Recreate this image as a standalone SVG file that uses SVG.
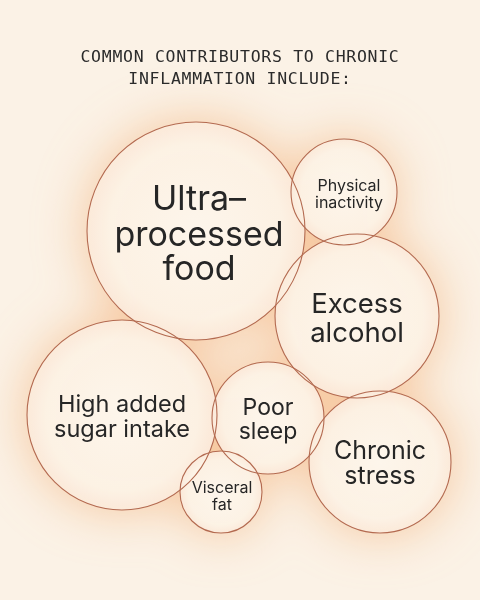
<svg xmlns="http://www.w3.org/2000/svg" width="480" height="600" viewBox="0 0 480 600">
<defs>
<filter id="glow" x="-50%" y="-50%" width="200%" height="200%"><feGaussianBlur stdDeviation="24"/></filter>
<radialGradient id="fill" cx="50%" cy="50%" r="50%">
<stop offset="0" stop-color="#fdf9f1"/>
<stop offset="0.8" stop-color="#fcf4e8"/>
<stop offset="1" stop-color="#fbeadb"/>
</radialGradient>
<style>
.bg-glow{fill:#f6c49a;opacity:0.85}
.disc{fill:url(#fill);fill-opacity:0.92}
.ring{fill:none;stroke:#b36a50;stroke-width:1.1}
.title{font-family:"DejaVu Sans Mono","Liberation Mono",monospace;font-size:16.5px;fill:#2b2b2b;text-anchor:middle;letter-spacing:0.7px}
.lbl{font-family:Inter,"Liberation Sans",sans-serif;fill:#262626;text-anchor:middle}
</style>
</defs>
<rect width="480" height="600" fill="#fbf2e6"/>
<g filter="url(#glow)">
<circle class="bg-glow" cx="196" cy="231" r="112"/>
<circle class="bg-glow" cx="344" cy="192" r="55"/>
<circle class="bg-glow" cx="357" cy="316" r="85"/>
<circle class="bg-glow" cx="122" cy="415" r="98"/>
<circle class="bg-glow" cx="268" cy="418" r="58"/>
<circle class="bg-glow" cx="221" cy="492" r="43"/>
<circle class="bg-glow" cx="380" cy="462" r="74"/>
</g>
<g id="title">
<text class="title" x="240" y="62">COMMON CONTRIBUTORS TO CHRONIC</text>
<text class="title" x="240" y="84">INFLAMMATION INCLUDE:</text>
</g>
<g id="discs">
<circle class="disc" cx="196" cy="231" r="109"/>
<circle class="disc" cx="344" cy="192" r="53"/>
<circle class="disc" cx="357" cy="316" r="82"/>
<circle class="disc" cx="122" cy="415" r="95"/>
<circle class="disc" cx="268" cy="418" r="56"/>
<circle class="disc" cx="221" cy="492" r="41"/>
<circle class="disc" cx="380" cy="462" r="71"/>
</g>
<g id="ultra"><circle class="ring" cx="196" cy="231" r="109"/>
<text class="lbl" font-size="34"><tspan x="199" y="210">Ultra–</tspan><tspan x="199" y="246">processed</tspan><tspan x="199" y="280">food</tspan></text></g>
<g id="physical"><circle class="ring" cx="344" cy="192" r="53"/>
<text class="lbl" font-size="16"><tspan x="349" y="191">Physical</tspan><tspan x="349" y="208">inactivity</tspan></text></g>
<g id="alcohol"><circle class="ring" cx="357" cy="316" r="82"/>
<text class="lbl" font-size="27.5"><tspan x="357" y="313">Excess</tspan><tspan x="357" y="342">alcohol</tspan></text></g>
<g id="sugar"><circle class="ring" cx="122" cy="415" r="95"/>
<text class="lbl" font-size="23.5"><tspan x="122" y="412">High added</tspan><tspan x="122" y="437">sugar intake</tspan></text></g>
<g id="sleep"><circle class="ring" cx="268" cy="418" r="56"/>
<text class="lbl" font-size="23"><tspan x="268" y="415">Poor</tspan><tspan x="268" y="439">sleep</tspan></text></g>
<g id="visceral"><circle class="ring" cx="221" cy="492" r="41"/>
<text class="lbl" font-size="16"><tspan x="222" y="493">Visceral</tspan><tspan x="222" y="510">fat</tspan></text></g>
<g id="stress"><circle class="ring" cx="380" cy="462" r="71"/>
<text class="lbl" font-size="25"><tspan x="380" y="459">Chronic</tspan><tspan x="380" y="484">stress</tspan></text></g>
<g id="connectors"/>
</svg>
